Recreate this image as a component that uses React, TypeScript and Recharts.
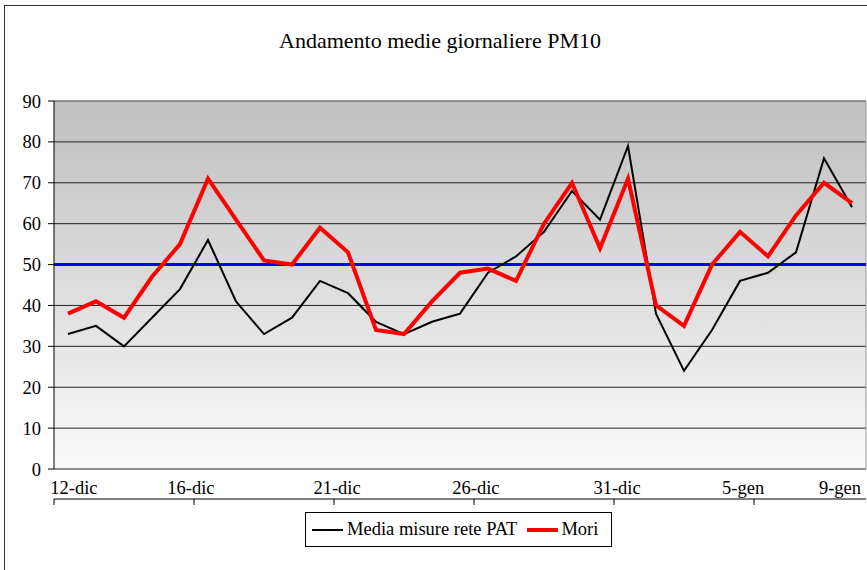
import React from 'react';
import { LineChart, Line, XAxis, YAxis, CartesianGrid, ReferenceLine, Legend } from 'recharts';

const days = [
  '12-dic', '13-dic', '14-dic', '15-dic', '16-dic', '17-dic', '18-dic', '19-dic', '20-dic', '21-dic',
  '22-dic', '23-dic', '24-dic', '25-dic', '26-dic', '27-dic', '28-dic', '29-dic', '30-dic', '31-dic',
  '1-gen', '2-gen', '3-gen', '4-gen', '5-gen', '6-gen', '7-gen', '8-gen', '9-gen',
];
const mediaRete = [33, 35, 30, 37, 44, 56, 41, 33, 37, 46, 43, 36, 33, 36, 38, 48, 52, 58, 68, 61, 79, 38, 24, 34, 46, 48, 53, 76, 64];
const mori = [38, 41, 37, 47, 55, 71, 61, 51, 50, 59, 53, 34, 33, 41, 48, 49, 46, 60, 70, 54, 71, 40, 35, 50, 58, 52, 62, 70, 65];
const limite = 50;
const yTicks = [0, 10, 20, 30, 40, 50, 60, 70, 80, 90];
const tickLabels = ['12-dic', '16-dic', '21-dic', '26-dic', '31-dic', '5-gen', '9-gen'];
const tickMarks = [0, 5, 10, 15, 20, 25];
const labelSpots = [0.71, 4.89, 10.11, 15.07, 20.11, 24.61, 28.07];

const data = days.map((d, i) => ({ x: i + 0.5, day: d, rete: mediaRete[i], mori: mori[i] }));

const FONT = '"Liberation Serif", Tinos, "DejaVu Serif", serif';

const LegendBox = () => (
  <div
    style={{
      width: 307,
      height: 35,
      boxSizing: 'border-box',
      border: '1px solid #000',
      background: '#fff',
      display: 'flex',
      alignItems: 'center',
      fontFamily: FONT,
      fontSize: 18.5,
      color: '#000',
      whiteSpace: 'nowrap',
    }}
  >
    <span style={{ display: 'inline-block', width: 31, height: 2, background: '#000', marginLeft: 6 }} />
    <span style={{ marginLeft: 4 }}>Media misure rete PAT</span>
    <span style={{ display: 'inline-block', width: 31, height: 4, background: '#ff0000', marginLeft: 10 }} />
    <span style={{ marginLeft: 3 }}>Mori</span>
  </div>
);

export default function App() {
  return (
    <div style={{ position: 'absolute', left: 0, top: 0, width: 867, height: 570, background: '#fff', overflow: 'hidden' }}>
      <div
        style={{
          position: 'absolute', left: 4, top: 5, width: 900, height: 600,
          borderLeft: '1px solid #333', borderTop: '1px solid #333', boxSizing: 'border-box',
        }}
      />
      <div
        style={{
          position: 'absolute', left: 0, top: 30, width: 880, textAlign: 'center',
          fontFamily: FONT, fontSize: 22, lineHeight: '22px', color: '#000',
        }}
      >
        Andamento medie giornaliere PM10
      </div>
      <div style={{ position: 'absolute', left: 0, top: 0 }}>
        <LineChart width={867} height={570} data={data} margin={{ top: 101, right: 1, left: 0, bottom: 64 }}>
          <defs>
            <linearGradient id="plotBg" x1="0" y1="0" x2="0" y2="1">
              <stop offset="0%" stopColor="#bfbfbf" />
              <stop offset="100%" stopColor="#fafafa" />
            </linearGradient>
          </defs>
          <CartesianGrid vertical={false} fill="url(#plotBg)" stroke="#222" strokeWidth={1} />
          <XAxis
            xAxisId="m"
            type="number"
            dataKey="x"
            domain={[0, 29]}
            ticks={tickMarks}
            interval={0}
            tickFormatter={() => ''}
            tick={{ fontSize: 1, fill: 'none' }}
            tickSize={6}
            tickMargin={0}
            height={7}
            stroke="#000"
            axisLine={{ stroke: '#000' }}
            tickLine={{ stroke: '#000' }}
          />
          <XAxis
            xAxisId="l"
            type="number"
            dataKey="x"
            domain={[0, 29]}
            ticks={labelSpots}
            interval={0}
            tickSize={0}
            tickMargin={12}
            height={30}
            axisLine={false}
            tickLine={false}
            tickFormatter={(v: number) => tickLabels[labelSpots.indexOf(v)] ?? ''}
            tick={{ fontFamily: FONT, fontSize: 18.5, fill: '#000' }}
          />
          <YAxis
            type="number"
            domain={[0, 90]}
            ticks={yTicks}
            interval={0}
            width={54}
            tickSize={6}
            tickMargin={7}
            stroke="#000"
            axisLine={{ stroke: '#000' }}
            tickLine={{ stroke: '#000' }}
            tick={{ fontFamily: FONT, fontSize: 18.5, fill: '#000' }}
          />
          <ReferenceLine xAxisId="m" y={90} stroke="#999" strokeWidth={1} />
          <ReferenceLine xAxisId="m" x={29} stroke="#999" strokeWidth={1} />
          <ReferenceLine xAxisId="m" y={limite} stroke="#0000ff" strokeWidth={3} />
          <Line
            xAxisId="m"
            type="linear"
            dataKey="rete"
            name="Media misure rete PAT"
            stroke="#000"
            strokeWidth={2}
            dot={false}
            activeDot={false}
            isAnimationActive={false}
          />
          <Line
            xAxisId="m"
            type="linear"
            dataKey="mori"
            name="Mori"
            stroke="#ff0000"
            strokeWidth={4}
            dot={false}
            activeDot={false}
            isAnimationActive={false}
          />
          <Legend
            layout="vertical"
            align="center"
            verticalAlign="middle"
            content={() => <LegendBox />}
            wrapperStyle={{ position: 'absolute', left: 305, top: 512, width: 307, height: 35 }}
          />
        </LineChart>
      </div>
    </div>
  );
}
